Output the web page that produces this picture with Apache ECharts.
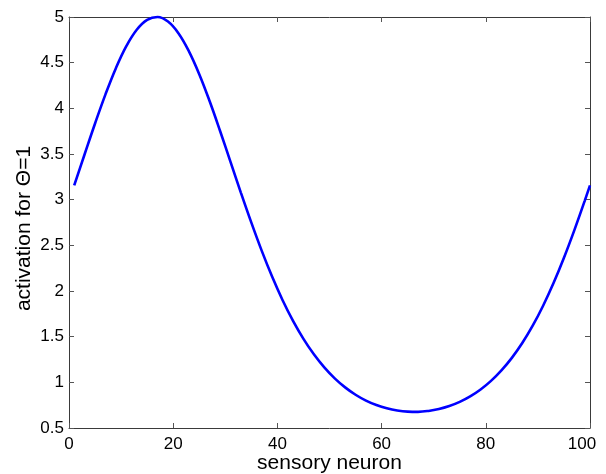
<!DOCTYPE html>
<html>
<head>
<meta charset="utf-8">
<script src="https://cdn.jsdelivr.net/npm/echarts@6/dist/echarts.min.js"></script>
<style>
html,body{margin:0;padding:0;background:#fff;}
#c{width:606px;height:474px;}
</style>
</head>
<body>
<div id="c"></div>
<script>
// sensory neuron index
const neurons = [1,3,5,7,9,11,13,15,17,19,21,23,25,27,29,31,33,35,37,39,41,43,45,47,49,
  51,53,55,57,59,61,63,65,67,69,71,73,75,77,79,81,83,85,87,89,91,93,95,97,99,100];
// activation for Θ=1
const activation = [3.157,3.497,3.834,4.153,4.440,4.681,4.861,4.969,5.000,4.950,4.823,4.627,4.374,4.077,3.752,3.414,3.075,2.748,2.439,2.155,1.899,1.673,1.476,1.307,1.164,
  1.044,0.945,0.864,0.800,0.751,0.715,0.691,0.679,0.677,0.687,0.708,0.741,0.786,0.846,0.922,1.016,1.131,1.268,1.430,1.620,1.839,2.087,2.364,2.667,2.990,3.157];
const xTicks = [0,20,40,60,80,100];
const yTicks = [0.5,1,1.5,2,2.5,3,3.5,4,4.5,5];

const seriesData = neurons.map((x,i)=>[x,activation[i]]);
const FONT = 'Liberation Sans, Arial, Helvetica, sans-serif';
const axisLineStyle = {color:'#3a3a3a', width:1};
const tickStyle = {show:true, inside:true, length:5, lineStyle:{color:'#555', width:1}};

const chart = echarts.init(document.getElementById('c'), null, {renderer:'canvas'});
chart.setOption({
  animation:false,
  backgroundColor:'#fff',
  grid:{left:69, top:17, right:16, bottom:46, containLabel:false, outerBoundsMode:'none'},
  xAxis:[{
    type:'value', position:'bottom', min:xTicks[0], max:xTicks[xTicks.length-1], interval:20,
    name:'sensory neuron', nameLocation:'middle', nameGap:25, nameMoveOverlap:false,
    nameTextStyle:{color:'#000', fontSize:21, fontFamily:FONT},
    axisLine:{show:true, onZero:false, lineStyle:axisLineStyle},
    axisTick:tickStyle,
    splitLine:{show:false},
    axisLabel:{color:'#000', fontSize:17, fontFamily:FONT, margin:8, hideOverlap:false,
      formatter:function(v){ return v===100 ? '{m|100}' : String(v); },
      rich:{m:{fontSize:17, fontFamily:FONT, color:'#000', padding:[0,16,0,0]}}}
  },{
    type:'value', position:'top', min:xTicks[0], max:xTicks[xTicks.length-1], interval:20,
    axisLine:{show:true, onZero:false, lineStyle:axisLineStyle},
    axisTick:tickStyle, axisLabel:{show:false}, splitLine:{show:false}
  }],
  yAxis:[{
    type:'value', position:'left', min:yTicks[0], max:yTicks[yTicks.length-1], interval:0.5,
    name:'activation for Θ=1', nameLocation:'middle', nameGap:34, nameRotate:90, nameMoveOverlap:false,
    nameTextStyle:{color:'#000', fontSize:21, fontFamily:FONT, padding:[0,12,0,0]},
    axisLine:{show:true, onZero:false, lineStyle:axisLineStyle},
    axisTick:tickStyle,
    splitLine:{show:false},
    axisLabel:{color:'#000', fontSize:17, fontFamily:FONT, margin:5, hideOverlap:false}
  },{
    type:'value', position:'right', min:yTicks[0], max:yTicks[yTicks.length-1], interval:0.5,
    axisLine:{show:true, onZero:false, lineStyle:axisLineStyle},
    axisTick:tickStyle, axisLabel:{show:false}, splitLine:{show:false}
  }],
  series:[{
    type:'line', xAxisIndex:0, yAxisIndex:0, data:seriesData,
    showSymbol:false, symbol:'none', smooth:0.4, clip:false,
    lineStyle:{color:'#0000ff', width:2.6},
    itemStyle:{color:'#0000ff'}
  }]
});
</script>
</body>
</html>
